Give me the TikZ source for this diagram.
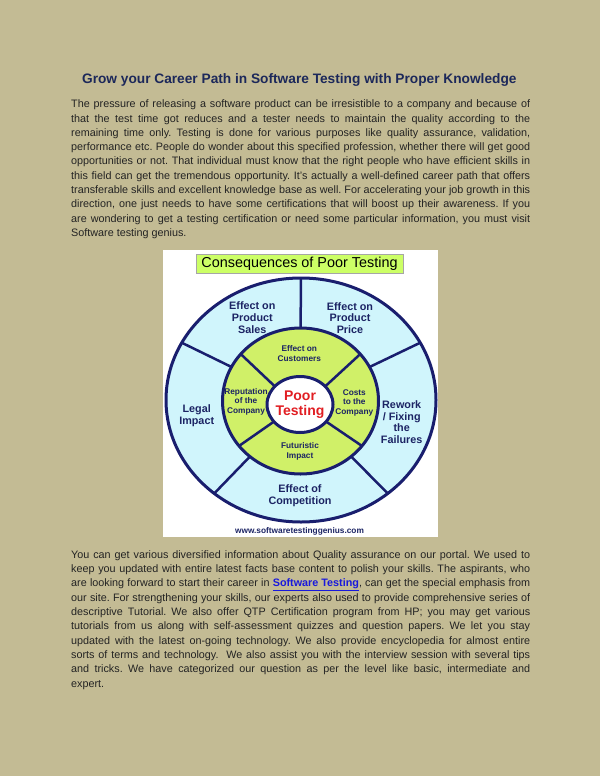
\documentclass[tikz,border=0pt]{standalone}
\usepackage{fontspec}
\setmainfont{Liberation Sans}
\usepackage{tikz}
\usetikzlibrary{calc}
\definecolor{pagetan}{RGB}{195,187,148}
\definecolor{ringblue}{RGB}{208,245,252}
\definecolor{ringgreen}{RGB}{208,240,104}
\definecolor{titlegreen}{RGB}{204,255,102}
\definecolor{navyline}{RGB}{25,30,110}
\definecolor{navytext}{RGB}{28,36,100}
\definecolor{poorred}{RGB}{225,30,35}
\definecolor{bodytext}{RGB}{35,35,35}
\definecolor{headcol}{RGB}{28,40,90}
\definecolor{linkblue}{RGB}{25,25,220}
\tikzset{
  ring/.style={draw=navyline, line width=3pt},
  spoke/.style={draw=navyline, line width=2.5pt},
  outerlbl/.style={font=\fontsize{10.8}{11.7}\selectfont\bfseries, text=navytext, align=center, inner sep=0pt},
  innerlbl/.style={font=\fontsize{8.3}{9.4}\selectfont\bfseries, text=navytext, align=center, inner sep=0pt},
  para/.style={font=\fontsize{10.8}{14.3}\selectfont\frenchspacing, text=bodytext, text width=459pt, align=justify, inner sep=0pt, anchor=base west},
  headline/.style={font=\fontsize{13.7}{14}\selectfont\bfseries, text=headcol, inner sep=0pt, anchor=base},
  titlebox/.style={draw=gray!70, fill=titlegreen, line width=1pt, minimum width=207pt, minimum height=19pt, inner sep=0pt, font=\fontsize{14.4}{14.4}\selectfont}
}

\begin{document}
\begin{tikzpicture}[x=1pt,y=-1pt]
  \useasboundingbox (0,0) rectangle (600,776);
  \fill[pagetan] (0,0) rectangle (600,776);

  \node[headline] (head) at (299.3,83) {Grow your Career Path in Software Testing with Proper Knowledge};

  \node[para] (intro) at (71,107.7) {\tolerance=10000
    The pressure of releasing a software product can be irresistible to a company and because of\linebreak
    that the test time got reduces and a tester needs to maintain the quality according to the\linebreak
    remaining time only. Testing is done for various purposes like quality assurance, validation,\linebreak
    performance etc. People do wonder about this specified profession, whether there will get good\linebreak
    opportunities or not. That individual must know that the right people who have efficient skills in\linebreak
    this field can get the tremendous opportunity. It’s actually a well-defined career path that offers\linebreak
    transferable skills and excellent knowledge base as well. For accelerating your job growth in this\linebreak
    direction, one just needs to have some certifications that will boost up their awareness. If you\linebreak
    are wondering to get a testing certification or need some particular information, you must visit\linebreak
    Software testing genius.};

  % diagram
  \fill[white] (163,250) rectangle (438,537);
  \node[titlebox] (cons) at (299.5,263.8) {Consequences of Poor Testing};

  \coordinate (oc) at (301,400);
  \coordinate (gc) at (300.5,401);
  \coordinate (wc) at (300,404.5);
  \fill[ringblue] (oc) ellipse [x radius=135, y radius=122];
  \foreach \a in {90,152,28,230,310}
    \draw[spoke] ($(gc)+(-\a:70 and 65)$) -- ($(oc)+(-\a:135 and 122)$);
  \filldraw[ring, fill=ringgreen] (gc) ellipse [x radius=78, y radius=73];
  \foreach \a in {40,140,218,322}
    \draw[spoke] ($(wc)+(-\a:30 and 25)$) -- ($(gc)+(-\a:78 and 73)$);
  \filldraw[ring, fill=white] (wc) ellipse [x radius=33, y radius=28];
  \draw[ring] (oc) ellipse [x radius=135, y radius=122];

  \node[outerlbl] (sales) at (252.3,317.5) {Effect on\\Product\\Sales};
  \node[outerlbl] (price) at (350,318) {Effect on\\Product\\Price};
  \node[outerlbl] (legal) at (196.7,416) {Legal\\Impact};
  \node[outerlbl] (rework) at (401.7,422) {Rework\\/ Fixing\\the\\Failures};
  \node[outerlbl] (compet) at (300,496) {Effect of\\Competition};

  \node[innerlbl] (cust) at (299.3,353.7) {Effect on\\Customers};
  \node[innerlbl] (reput) at (246,401.5) {Reputation\\of the\\Company};
  \node[innerlbl] (costs) at (354.3,402.8) {Costs\\to the\\Company};
  \node[innerlbl] (future) at (300,451.3) {Futuristic\\Impact};
  \node[font=\fontsize{14}{15}\selectfont\bfseries, text=poorred, align=center, inner sep=0pt] (poor) at (300,404.2) {Poor\\Testing};
  \node[font=\fontsize{8.3}{9}\selectfont\bfseries, text=navytext, inner sep=0pt] (site) at (299.5,531) {www.softwaretestinggenius.com};

  \node[para] (portal) at (71,558.3) {\tolerance=10000
    You can get various diversified information about Quality assurance on our portal. We used to\linebreak
    keep you updated with entire latest facts base content to polish your skills. The aspirants, who\linebreak
    are looking forward to start their career in {\bfseries\color{linkblue}\underline{Software Testing}}, can get the special emphasis from\linebreak
    our site. For strengthening your skills, our experts also used to provide comprehensive series of\linebreak
    descriptive Tutorial. We also offer QTP Certification program from HP; you may get various\linebreak
    tutorials from us along with self-assessment quizzes and question papers. We let you stay\linebreak
    updated with the latest on-going technology. We also provide encyclopedia for almost entire\linebreak
    sorts of terms and technology.\ \ We also assist you with the interview session with several tips\linebreak
    and tricks. We have categorized our question as per the level like basic, intermediate and\linebreak
    expert.};
\end{tikzpicture}
\end{document}
